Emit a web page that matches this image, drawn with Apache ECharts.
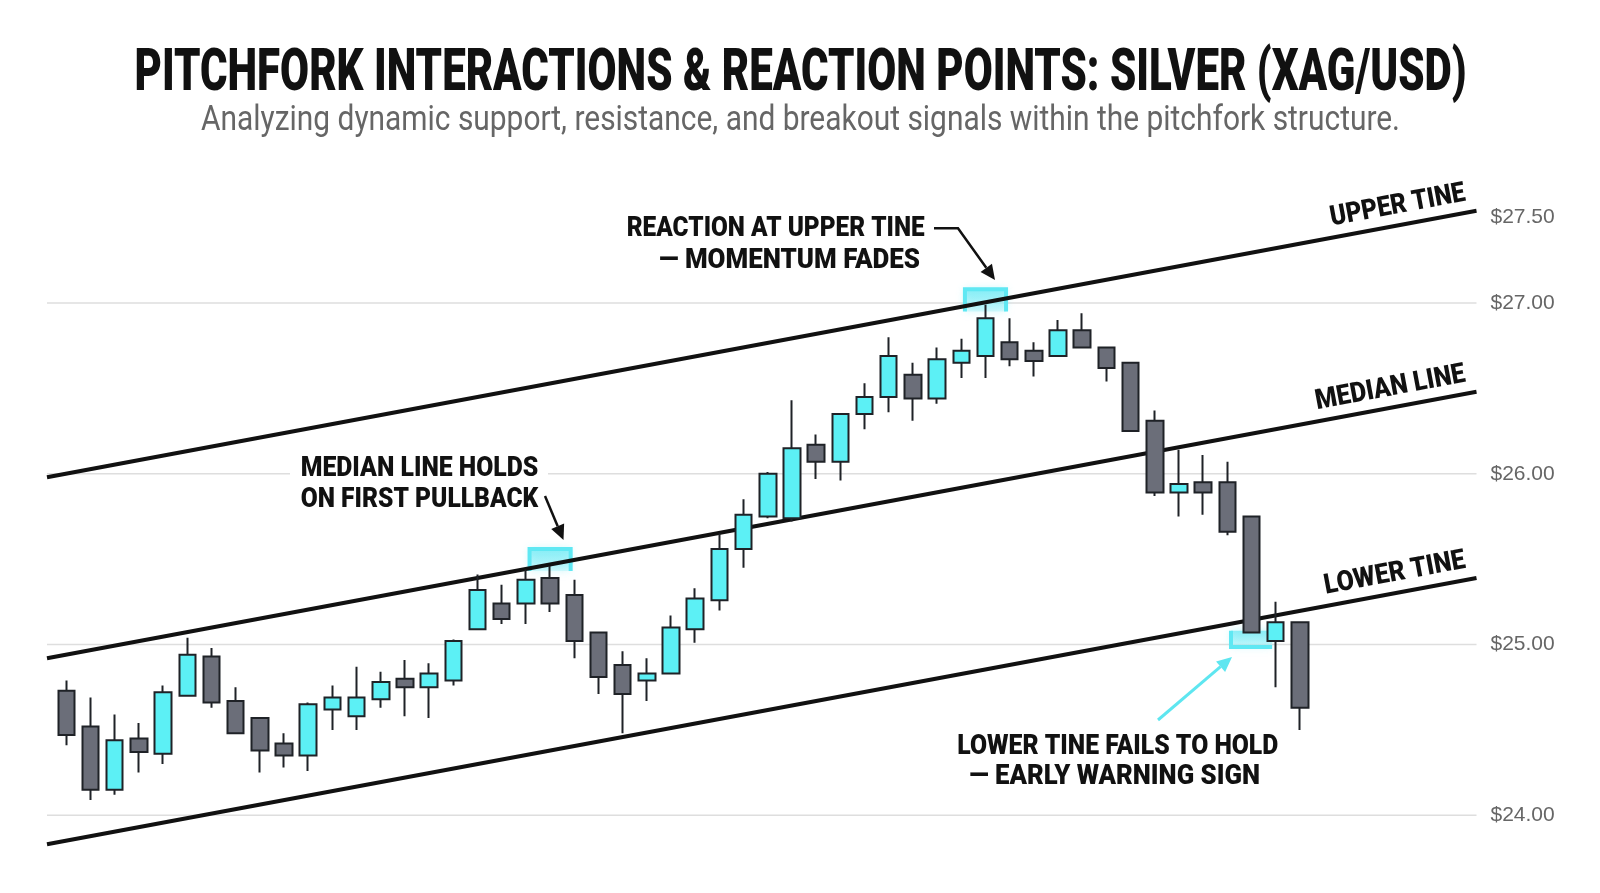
<!DOCTYPE html>
<html>
<head>
<meta charset="utf-8">
<title>Pitchfork Interactions & Reaction Points: Silver (XAG/USD)</title>
<script src="https://cdn.jsdelivr.net/npm/echarts@6/dist/echarts.min.js"></script>
<style>
  html, body { margin: 0; padding: 0; background: #fff; }
  #chart { width: 1600px; height: 893px; }
</style>
</head>
<body>
<div id="chart"></div>
<script>
// daily candles, XAG/USD
const opens = [24.73, 24.52, 24.15, 24.45, 24.36, 24.70, 24.93, 24.67, 24.57, 24.42,
  24.35, 24.62, 24.58, 24.68, 24.80, 24.75, 24.79, 25.09, 25.24, 25.24,
  25.39, 25.29, 25.07, 24.88, 24.79, 24.83, 25.09, 25.26, 25.56, 25.75,
  25.74, 26.17, 26.07, 26.35, 26.45, 26.58, 26.44, 26.65, 26.69, 26.77,
  26.72, 26.69, 26.84, 26.74, 26.65, 26.31, 25.89, 25.95, 25.95, 25.75,
  25.02, 25.13]
const closes = [24.47, 24.15, 24.44, 24.37, 24.72, 24.94, 24.66, 24.48, 24.38, 24.35,
  24.65, 24.69, 24.69, 24.78, 24.75, 24.83, 25.02, 25.32, 25.15, 25.38,
  25.24, 25.02, 24.81, 24.71, 24.83, 25.10, 25.27, 25.56, 25.76, 26.00,
  26.15, 26.07, 26.35, 26.45, 26.69, 26.44, 26.67, 26.72, 26.91, 26.67,
  26.66, 26.84, 26.74, 26.62, 26.25, 25.89, 25.94, 25.89, 25.66, 25.07,
  25.13, 24.63]
const lows = [24.41, 24.09, 24.12, 24.25, 24.30, 24.70, 24.63, 24.48, 24.25, 24.28,
  24.26, 24.50, 24.50, 24.63, 24.58, 24.57, 24.76, 25.09, 25.12, 25.12,
  25.19, 24.92, 24.71, 24.48, 24.67, 24.83, 25.01, 25.20, 25.45, 25.74,
  25.72, 25.97, 25.96, 26.26, 26.36, 26.31, 26.41, 26.56, 26.56, 26.63,
  26.57, 26.69, 26.74, 26.54, 26.25, 25.87, 25.75, 25.76, 25.64, 25.07,
  24.75, 24.50]
const highs = [24.79, 24.69, 24.59, 24.54, 24.76, 25.04, 24.98, 24.75, 24.57, 24.48,
  24.66, 24.76, 24.87, 24.84, 24.91, 24.89, 25.03, 25.41, 25.35, 25.44,
  25.46, 25.38, 25.07, 24.96, 24.92, 25.17, 25.33, 25.65, 25.85, 26.01,
  26.43, 26.23, 26.35, 26.53, 26.80, 26.65, 26.74, 26.79, 26.99, 26.91,
  26.77, 26.90, 26.94, 26.74, 26.65, 26.37, 26.14, 26.11, 26.07, 25.75,
  25.25, 25.13]

// pitchfork lines, price at the left and right edge of the plot
const tineX = [-0.8, 58.3]
const upperTine = [25.98, 27.54]
const medianLine = [24.92, 26.48]
const lowerTine = [23.83, 25.39]

const gridValues = [24, 25, 26, 27]
const yLabelValues = [24, 25, 26, 27, 27.5]

// highlighted reactions: candle index, price top, price bottom
const boxIndex = [20, 38, 49]
const boxTop = [25.56, 27.08, 25.08]
const boxBottom = [25.43, 26.95, 24.985]

const CYAN = '#5cf0f5'
const DARK = '#6b6e79'
const INK = '#111111'
const NARROW = '"Liberation Sans Narrow", Roboto, sans-serif'

const chart = echarts.init(document.getElementById('chart'))

const candles = opens.map((o, i) => [i, o, closes[i], lows[i], highs[i]])

const lineSeries = (values, color, width, z) => ({
  type: 'line',
  data: tineX.map((x, i) => [x, values[i]]),
  symbol: 'none',
  silent: true,
  z,
  lineStyle: { color, width }
})

chart.setOption({
  animation: false,
  grid: { left: 47, right: 123.5, top: 174.9, bottom: 35 },
  xAxis: { type: 'value', min: tineX[0], max: tineX[1], show: false },
  yAxis: {
    type: 'value',
    position: 'right',
    min: 23.75,
    max: 27.75,
    interval: 0.25,
    axisLine: { show: false },
    axisTick: { show: false },
    splitLine: { show: false },
    axisLabel: {
      margin: 14,
      color: '#666',
      fontSize: 21,
      fontFamily: '"Liberation Sans", Arial, sans-serif',
      formatter: v => yLabelValues.includes(v) ? '$' + v.toFixed(2) : ''
    }
  },
  series: [
    ...gridValues.map(v => lineSeries([v, v], '#dedede', 1.5, 1)),
    {
      type: 'custom',
      z: 2,
      silent: true,
      data: boxIndex.map((x, i) => [x, boxTop[i], boxBottom[i], i === 2 ? 1 : 0]),
      renderItem(params, api) {
        const half = 0.85
        const tl = api.coord([api.value(0) - half, api.value(1)])
        const br = api.coord([api.value(0) + half, api.value(2)])
        const cup = api.value(3) === 1
        const pts = cup
          ? [[tl[0], tl[1]], [tl[0], br[1]], [br[0], br[1]]]
          : [[tl[0], br[1]], [tl[0], tl[1]], [br[0], tl[1]], [br[0], br[1]]]
        return {
          type: 'group',
          children: [{
            type: 'rect',
            shape: { x: tl[0], y: tl[1], width: br[0] - tl[0], height: br[1] - tl[1] },
            style: {
              fill: new echarts.graphic.LinearGradient(0, 0, 0, 1, [
                { offset: 0, color: 'rgba(100,232,244,0.7)' },
                { offset: 1, color: 'rgba(170,243,250,0.45)' }
              ]),
              shadowBlur: 8,
              shadowColor: 'rgba(92,233,243,0.6)'
            }
          }, {
            type: 'polyline',
            shape: { points: pts },
            style: { stroke: '#5fe8f3', lineWidth: 4, fill: 'none' }
          }]
        }
      }
    },
    lineSeries(upperTine, INK, 4, 3),
    lineSeries(medianLine, INK, 4, 3),
    lineSeries(lowerTine, INK, 4, 3),
    {
      type: 'candlestick',
      z: 4,
      data: candles,
      encode: { x: 0, y: [1, 2, 3, 4] },
      barWidth: 17,
      itemStyle: {
        color: CYAN,
        color0: DARK,
        borderColor: '#1f2227',
        borderColor0: '#1f2227',
        borderWidth: 2
      }
    }
  ]
})

// --- annotations ---
const measureCtx = document.createElement('canvas').getContext('2d')
function fitScale(text, font, width) {
  measureCtx.font = font
  return width / measureCtx.measureText(text).width
}

function label(text, x, y, size, width, opts = {}) {
  const font = (opts.weight || '900') + ' ' + size + 'px ' + NARROW
  const align = opts.align || 'left'
  return {
    type: 'text',
    x, y,
    z: 30,
    rotation: opts.rotation || 0,
    scaleX: fitScale(text, font, width),
    style: {
      text, font,
      fill: opts.color || INK,
      align, textAlign: align,
      verticalAlign: 'middle', textVerticalAlign: 'middle'
    }
  }
}

function arrow(points, color, width) {
  const n = points.length
  const [x1, y1] = points[n - 2]
  const [x2, y2] = points[n - 1]
  const a = Math.atan2(y2 - y1, x2 - x1)
  const len = 15, half = 7
  const bx = x2 - len * Math.cos(a), by = y2 - len * Math.sin(a)
  return [{
    type: 'polyline',
    z: 30,
    shape: { points: points.slice(0, n - 1).concat([[bx, by]]) },
    style: { stroke: color, lineWidth: width, fill: 'none' }
  }, {
    type: 'polygon',
    z: 30,
    shape: { points: [[x2, y2], [bx - half * Math.sin(a), by + half * Math.cos(a)], [bx + half * Math.sin(a), by - half * Math.cos(a)]] },
    style: { fill: color }
  }]
}

function tineLabel(text, values, width) {
  const p0 = chart.convertToPixel({ gridIndex: 0 }, [tineX[0], values[0]])
  const p1 = chart.convertToPixel({ gridIndex: 0 }, [tineX[1], values[1]])
  const ang = Math.atan2(p0[1] - p1[1], p1[0] - p0[0])
  const ex = p1[0] - 8 * Math.cos(ang)
  const ey = p1[1] + 8 * Math.sin(ang)
  const d = 19
  return label(text, ex - d * Math.sin(ang), ey - d * Math.cos(ang), 28, width, { align: 'right', rotation: ang })
}

chart.setOption({
  graphic: [
    label('PITCHFORK INTERACTIONS & REACTION POINTS: SILVER (XAG/USD)', 800.5, 75, 60, 1332, { align: 'center' }),
    label('Analyzing dynamic support, resistance, and breakout signals within the pitchfork structure.', 800.5, 121, 35, 1199, { align: 'center', weight: 'normal', color: '#666' }),

    label('REACTION AT UPPER TINE', 626.7, 229.4, 28, 298),
    label('— MOMENTUM FADES', 659, 260.6, 28, 261),
    ...arrow([[934, 228.3], [958, 228.3], [995, 280]], INK, 2.5),

    { type: 'rect', z: 29, shape: { x: 290, y: 452, width: 258, height: 62 }, style: { fill: '#fff' } },
    label('MEDIAN LINE HOLDS', 300.7, 468.7, 28, 237.6),
    label('ON FIRST PULLBACK', 300.7, 500, 28, 237.6),
    ...arrow([[545, 496], [563.5, 540]], INK, 2.5),

    label('LOWER TINE FAILS TO HOLD', 957.3, 746.7, 28, 321),
    label('— EARLY WARNING SIGN', 969.3, 777.4, 28, 290.7),
    ...arrow([[1158, 720], [1232, 657]], '#5ee6f0', 3),

    tineLabel('UPPER TINE', upperTine, 137),
    tineLabel('MEDIAN LINE', medianLine, 152),
    tineLabel('LOWER TINE', lowerTine, 143)
  ]
})
</script>
</body>
</html>
